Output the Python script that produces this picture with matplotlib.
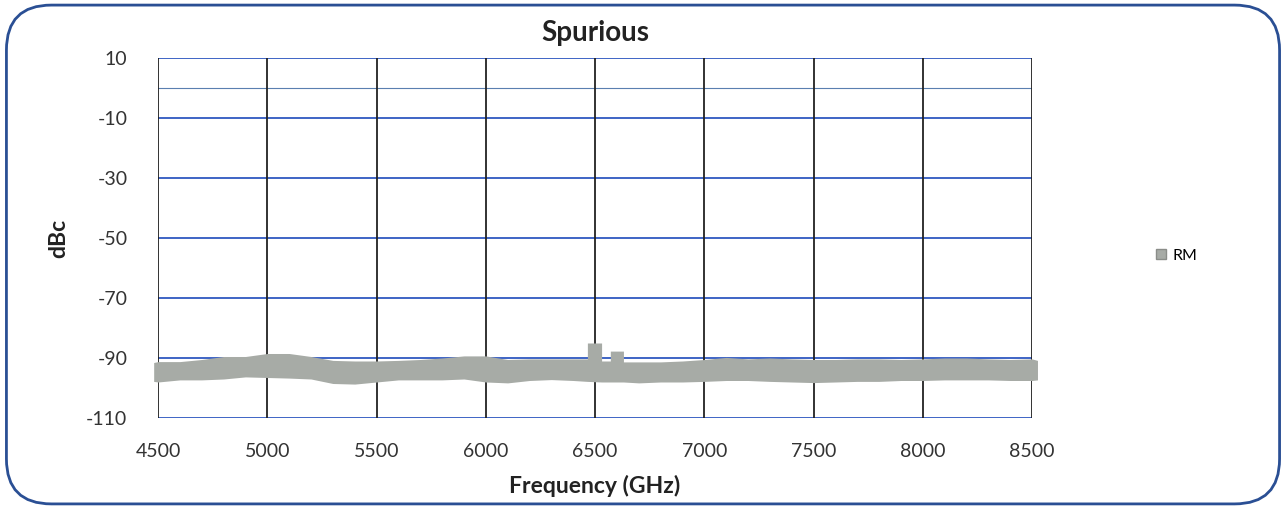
import matplotlib.pyplot as plt
from matplotlib.patches import FancyBboxPatch, Patch

plt.rcParams['font.family'] = ['Lato', 'DejaVu Sans']
plt.rcParams['axes.unicode_minus'] = False

# frequency points and upper / lower edge of the RM trace (dBc)
freq = [4480, 4500, 4600, 4700, 4800, 4900, 5000, 5100, 5200, 5300, 5400,
        5500, 5600, 5700, 5800, 5900, 6000, 6100, 6200, 6300, 6400, 6465,
        6465, 6530, 6530, 6570, 6570, 6630, 6630, 6700, 6800, 6900, 7000,
        7100, 7200, 7300, 7400, 7500, 7600, 7700, 7800, 7900, 8000, 8100,
        8200, 8300, 8400, 8500, 8525]
upper = [-91.5, -91.2, -91.2, -90.5, -89.5, -89.5, -88.5, -88.5, -89.5, -90.8, -91.0,
         -91.0, -90.8, -90.5, -90.0, -89.3, -89.3, -90.5, -90.3, -90.3, -90.3, -90.3,
         -85.0, -85.0, -91.0, -91.0, -87.7, -87.7, -91.3, -91.3, -91.3, -91.0, -90.5,
         -89.8, -90.3, -90.0, -90.3, -90.5, -90.5, -90.3, -90.3, -90.5, -90.3, -90.0,
         -90.0, -90.3, -90.5, -90.3, -90.8]
lower = [-97.8, -98.0, -97.3, -97.3, -97.0, -96.3, -96.5, -96.7, -97.0, -98.5, -98.7,
         -98.0, -97.3, -97.3, -97.3, -97.0, -98.0, -98.3, -97.5, -97.2, -97.5, -97.8,
         -97.8, -98.0, -98.0, -98.0, -98.0, -98.0, -98.0, -98.3, -98.0, -98.0, -97.8,
         -97.5, -97.5, -97.8, -98.0, -98.2, -98.0, -97.8, -97.8, -97.5, -97.5, -97.3,
         -97.3, -97.3, -97.5, -97.5, -97.3]

xticks = [4500, 5000, 5500, 6000, 6500, 7000, 7500, 8000, 8500]
yticks = [10, -10, -30, -50, -70, -90, -110]

fig = plt.figure(figsize=(12.86, 5.09), dpi=100)

# rounded frame around the chart
frame = FancyBboxPatch((0.005, 0.01), 0.99, 0.98, transform=fig.transFigure,
                       boxstyle="round,pad=0,rounding_size=0.035",
                       fill=False, edgecolor='#2a4f94', linewidth=2.0,
                       mutation_aspect=1286 / 509)
fig.patches.append(frame)

ax = fig.add_axes([0.1229, 0.1788, 0.6796, 0.7072])

ax.fill_between(freq, lower, upper, color='#a7aba6', linewidth=0, zorder=3, clip_on=False)

ax.set_xlim(4500, 8500)
ax.set_ylim(-110, 10)
ax.set_xticks(xticks)
ax.set_yticks(yticks)

for y in yticks:
    ax.axhline(y, color='#2f58c0', linewidth=1.3, zorder=1)
ax.axhline(0, color='#5a7fb0', linewidth=0.8, zorder=1)
for x in xticks:
    ax.axvline(x, color='#222222', linewidth=1.3, zorder=1)

for s in ax.spines.values():
    s.set_visible(False)

ax.tick_params(length=0, labelsize=14, colors='#333333')
ax.tick_params(axis='y', pad=22)
ax.tick_params(axis='x', pad=18)

ax.set_title('Spurious', fontsize=20, fontweight='bold', color='#222222', pad=12)
ax.set_xlabel('Frequency (GHz)', fontsize=16.5, fontweight='bold', color='#222222', labelpad=11)
ax.set_ylabel('dBc', fontsize=16.5, fontweight='bold', color='#222222', labelpad=12)

leg = fig.legend(handles=[Patch(facecolor='#a7aba6', edgecolor='#8a8d89', label='RM')],
                 loc='center left', bbox_to_anchor=(0.888, 0.497), frameon=False,
                 fontsize=11.5, handlelength=0.6, handleheight=0.6, handletextpad=0.4)

fig.savefig('out.png', dpi=100)
